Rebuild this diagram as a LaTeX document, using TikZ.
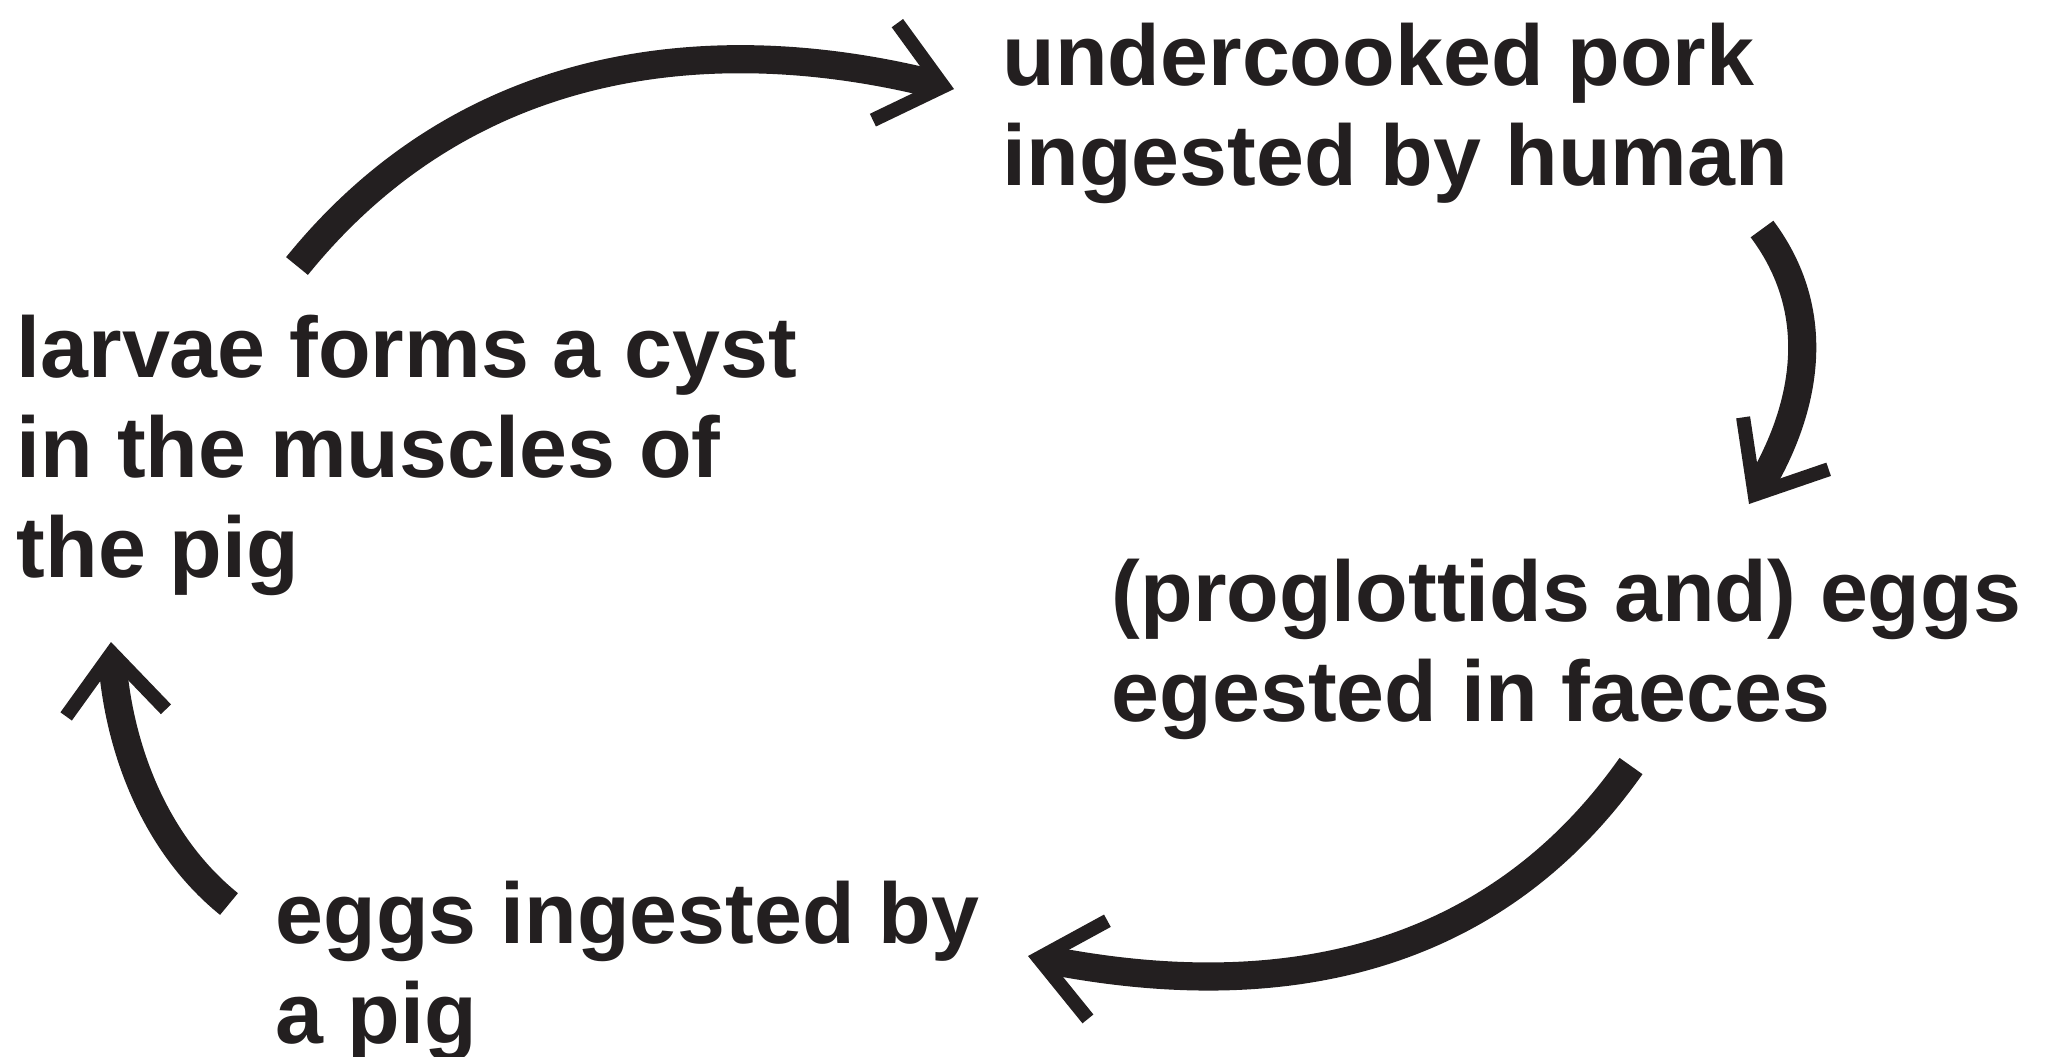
\documentclass[tikz,border=0pt]{standalone}
\usepackage{fontspec}
\setmainfont{Liberation Sans}
\usetikzlibrary{arrows.meta}
\definecolor{ink}{HTML}{231F20}

\begin{document}
\begin{tikzpicture}[x=0.01cm,y=-0.01cm,
		stage/.style={anchor=north west,inner sep=0pt,align=left,text=ink,font=\fontsize{24.5}{28.5}\selectfont\bfseries},
		lifecycle/.style={line width=8pt,draw=ink,-{Straight Barb[length=6mm,width=10mm,line width=4pt]}}]
		\useasboundingbox (0,0) rectangle (2054,1056);
		
		\node[stage] (pork) at (1002,22) {undercooked pork\\ingested by human};
		\node[stage] (faeces) at (1111,558) {(proglottids and) eggs\\egested in faeces};
		\node[stage] (pig) at (275,880) {eggs ingested by\\a pig};
		\node[stage] (cyst) at (16,314) {larvae forms a cyst\\in the muscles of\\the pig};
		
		\coordinate (cyst-out) at (297,266);
		\coordinate (pork-in) at (954,89);
		\coordinate (pork-out) at (1762,229);
		\coordinate (faeces-in) at (1749,504);
		\coordinate (faeces-out) at (1631,766);
		\coordinate (pig-in) at (1028,956);
		\coordinate (pig-out) at (229,904);
		\coordinate (cyst-in) at (111,642);
		
		\draw[lifecycle] (cyst-out) .. controls (480,40) and (740,35) .. (pork-in);
		\draw[lifecycle] (pork-out) .. controls (1830,320) and (1800,420) .. (faeces-in);
		\draw[lifecycle] (faeces-out) .. controls (1480,980) and (1250,1000) .. (pig-in);
		\draw[lifecycle] (pig-out) .. controls (150,840) and (118,740) .. (cyst-in);
	\end{tikzpicture}
\end{document}
